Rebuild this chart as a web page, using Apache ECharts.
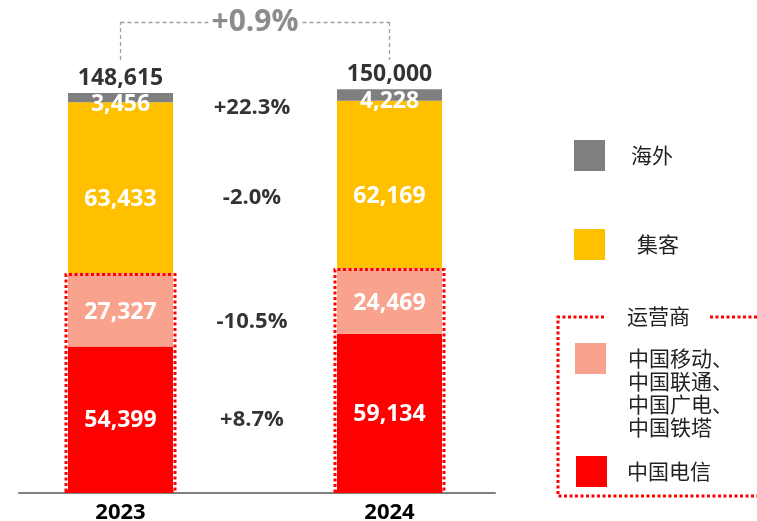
<!DOCTYPE html>
<html>
<head>
<meta charset="utf-8">
<script src="https://cdn.jsdelivr.net/npm/echarts@6/dist/echarts.min.js"></script>
<style>
html, body { margin: 0; padding: 0; background: #fff; }
#chart { width: 757px; height: 521px; }
</style>
</head>
<body>
<div id="chart"></div>
<script>
// 数据
var years = ['2023', '2024'];
var names = ['中国电信', '中国移动、中国联通、中国广电、中国铁塔', '集客', '海外'];
var telecom = [54399, 59134];
var operators = [27327, 24469];
var enterprise = [63433, 62169];
var overseas = [3456, 4228];

var colors = ['#ff0000', '#f9a28e', '#ffc000', '#7f7f7f'];
var segments = [telecom, operators, enterprise, overseas];
var labelDy = [1, 3, 12, 7];
var pctDy = [0, 12, 10, 10];

var totals = years.map(function (y, i) {
    return telecom[i] + operators[i] + enterprise[i] + overseas[i];
});
var boxValues = years.map(function (y, i) { return telecom[i] + operators[i]; });

function fmt(v) { return v.toLocaleString('en-US'); }
function pct(a, b) {
    var p = (b / a - 1) * 100;
    return (p >= 0 ? '+' : '') + p.toFixed(1) + '%';
}

var numFont = 'Open Sans';
var cjkFont = 'Noto Sans CJK SC';

var series = segments.map(function (vals, k) {
    return {
        name: names[k],
        type: 'bar',
        stack: 'total',
        xAxisIndex: 0,
        yAxisIndex: 0,
        barWidth: 105,
        data: vals,
        itemStyle: { color: colors[k] },
        label: {
            show: true,
            position: 'inside',
            offset: [0, labelDy[k]],
            color: '#fff',
            fontFamily: numFont,
            fontWeight: 'bold',
            fontSize: 23,
            formatter: function (p) { return fmt(p.value); }
        }
    };
});

// 运营商虚线框
series.push({
    type: 'bar',
    xAxisIndex: 1,
    yAxisIndex: 0,
    barWidth: 112,
    z: 5,
    silent: true,
    data: boxValues,
    itemStyle: {
        color: 'rgba(0,0,0,0)',
        borderColor: '#ff0000',
        borderWidth: 3,
        borderType: [3, 2.5]
    }
});

// 总计 + 增长括号
var bracketLow = 160900;
var bracketHigh = 175000;
series.push({
    type: 'scatter',
    xAxisIndex: 0,
    yAxisIndex: 0,
    symbolSize: 1,
    itemStyle: { color: 'rgba(0,0,0,0)' },
    data: totals,
    label: {
        show: true,
        position: 'top',
        distance: 3,
        color: '#000',
        fontFamily: numFont,
        fontWeight: 'bold',
        fontSize: 23,
        formatter: function (p) { return fmt(p.value); }
    },
    markLine: {
        silent: true,
        symbol: ['none', 'none'],
        lineStyle: { color: '#a0a0a0', type: [4, 3], width: 1.3 },
        label: { show: false },
        emphasis: { disabled: true },
        data: [
            [{ coord: [years[0], bracketLow] }, { coord: [years[0], bracketHigh] }],
            [{
                coord: [years[0], bracketHigh],
                label: {
                    show: true,
                    position: 'insideMiddle',
                    formatter: pct(totals[0], totals[1]),
                    color: '#8c8c8c',
                    fontFamily: numFont,
                    fontWeight: 'bold',
                    fontSize: 30,
                    backgroundColor: '#fff',
                    padding: [0, 3]
                }
            }, { coord: [years[1], bracketHigh] }],
            [{ coord: [years[1], bracketHigh] }, { coord: [years[1], bracketLow] }]
        ]
    }
});

// 中间增速
var cum = 0;
var pctData = segments.map(function (vals, k) {
    var mid = cum + vals[0] / 2;
    cum += vals[0];
    return {
        value: [0.5, mid],
        name: pct(vals[0], vals[1]),
        label: { offset: [-3, pctDy[k]] }
    };
});
series.push({
    type: 'scatter',
    xAxisIndex: 2,
    yAxisIndex: 0,
    symbolSize: 1,
    itemStyle: { color: 'rgba(0,0,0,0)' },
    data: pctData,
    label: {
        show: true,
        position: 'inside',
        color: '#000',
        fontFamily: numFont,
        fontWeight: 'bold',
        fontSize: 22,
        formatter: function (p) { return p.name; }
    }
});

function legendOf(name, left, top, padLeft, text) {
    return {
        data: [name],
        orient: 'vertical',
        left: left,
        top: top,
        padding: 0,
        icon: 'rect',
        itemWidth: 31,
        itemHeight: 31,
        selectedMode: false,
        formatter: text ? function () { return text; } : null,
        textStyle: {
            fontFamily: cjkFont,
            fontSize: 21,
            lineHeight: 23,
            color: '#222',
            padding: [0, 0, 0, padLeft]
        }
    };
}

var myChart = echarts.init(document.getElementById('chart'));
var option = {
    animation: false,
    backgroundColor: '#fff',
    grid: [
        { left: -14, right: 233, top: 8.5, bottom: 28, outerBoundsMode: 'none' },
        { left: 19, right: 262, top: 8.5, bottom: 28, outerBoundsMode: 'none' }
    ],
    xAxis: [
        {
            type: 'category', gridIndex: 0, data: years,
            axisLine: { show: false }, axisTick: { show: false },
            axisLabel: {
                margin: 9, color: '#000', fontFamily: numFont,
                fontWeight: 'bold', fontSize: 22
            }
        },
        { type: 'category', gridIndex: 0, data: years, show: false },
        { type: 'value', gridIndex: 0, min: -0.5, max: 1.5, show: false },
        {
            type: 'value', gridIndex: 1, min: 0, max: 1,
            axisLine: { show: true, lineStyle: { color: '#808080', width: 2 } },
            axisTick: { show: false }, axisLabel: { show: false },
            splitLine: { show: false }
        }
    ],
    yAxis: [
        { type: 'value', gridIndex: 0, min: 0, max: 180000, show: false },
        { type: 'value', gridIndex: 1, show: false }
    ],
    legend: [
        legendOf(names[3], 574, 140, 21),
        legendOf(names[2], 574, 229, 27),
        // 前置空行让第一行与色块对齐
        legendOf(names[1], 575, 278, 17, '\n\n\n中国移动、\n中国联通、\n中国广电、\n中国铁塔'),
        legendOf(names[0], 576, 456, 15)
    ],
    graphic: [
        {
            type: 'polyline',
            shape: { points: [[604, 317], [558, 317], [558, 496], [760, 496]] },
            style: { stroke: '#ff0000', lineWidth: 3, lineDash: [3, 2.5], fill: null }
        },
        {
            type: 'polyline',
            shape: { points: [[710, 317], [760, 317]] },
            style: { stroke: '#ff0000', lineWidth: 3, lineDash: [3, 2.5], fill: null }
        },
        {
            type: 'text',
            left: 627,
            top: 306,
            style: {
                text: '运营商',
                fontFamily: cjkFont,
                fontSize: 21,
                fill: '#222'
            }
        }
    ],
    series: series
};
myChart.setOption(option);
window.onresize = function () {
    myChart.resize();
};
</script>
</body>
</html>
